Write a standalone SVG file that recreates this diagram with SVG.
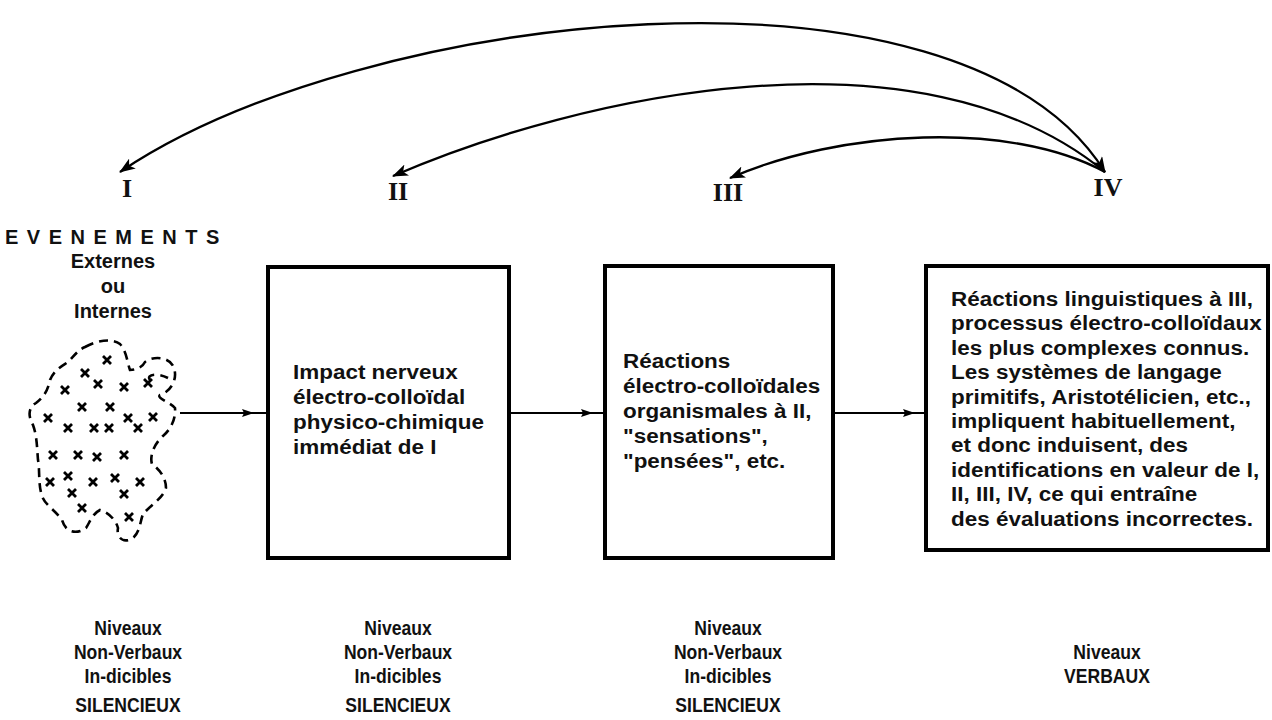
<svg xmlns="http://www.w3.org/2000/svg" width="1272" height="720" viewBox="0 0 1272 720">
<style>
.t{font-family:"Liberation Sans",Arial,sans-serif;font-weight:bold;font-size:21px;fill:#111}
.c{text-anchor:middle}
.lv{font-family:"Liberation Sans",Arial,sans-serif;font-weight:bold;font-size:19.5px;fill:#111;text-anchor:middle}
.rn{font-family:"Liberation Serif","Times New Roman",serif;font-weight:bold;font-size:26px;fill:#111;text-anchor:middle}
.box{fill:#fff;stroke:#000;stroke-width:4}
.ln{fill:none;stroke:#000;stroke-width:2}
.cv{fill:none;stroke:#000;stroke-width:2.3}
.blob{fill:none;stroke:#000;stroke-width:2.6;stroke-dasharray:9 6}
.x{stroke:#000;stroke-width:2.8;fill:none}
</style>
<defs>
<marker id="ah" viewBox="0 0 12 8" refX="11" refY="4" markerWidth="12" markerHeight="8" markerUnits="userSpaceOnUse" orient="auto">
<path d="M0,0 L12,4 L0,8 L2,4 z" fill="#000"/>
</marker>
<marker id="cah" viewBox="0 0 16 12" refX="15" refY="6" markerWidth="16" markerHeight="12" markerUnits="userSpaceOnUse" orient="auto">
<path d="M0,0 L16,6 L0,12 L4,6 z" fill="#000"/>
</marker>
<marker id="cahs" viewBox="0 0 16 12" refX="1" refY="6" markerWidth="16" markerHeight="12" markerUnits="userSpaceOnUse" orient="auto">
<path d="M16,0 L0,6 L16,12 L12,6 z" fill="#000"/>
</marker>
<path id="xm" d="M-4,-4 L4,4 M4,-4 L-4,4"/>
</defs>

<g id="connectors">
<path class="cv" d="M1105,172 C960,-60 360,10 120,172" marker-start="url(#cahs)" marker-end="url(#cah)"/>
<path class="cv" d="M1105,172 C920,20 580,95 393,176" marker-end="url(#cah)"/>
<path class="cv" d="M1105,172 C1010,120 840,130 730,178" marker-end="url(#cah)"/>
<path class="ln" d="M180,413 L253,413 L267,413" marker-mid="url(#ah)"/>
<path class="ln" d="M509,413 L592,413 L605,413" marker-mid="url(#ah)"/>
<path class="ln" d="M833,413 L914,413 L926,413" marker-mid="url(#ah)"/>
</g>

<g id="labels-roman">
<text class="rn" x="127" y="197">I</text>
<text class="rn" x="398" y="200">II</text>
<text class="rn" x="728" y="201">III</text>
<text class="rn" x="1108" y="196">IV</text>
</g>

<g id="node-I">
<text class="t" x="5" y="244" style="font-size:20px;letter-spacing:8.5px">EVENEMENTS</text>
<text class="t c" x="113" y="268" style="font-size:20px">Externes</text>
<text class="t c" x="113" y="293" style="font-size:20px">ou</text>
<text class="t c" x="113" y="318" style="font-size:20px">Internes</text>
<path class="blob" d="M85,347 C98,340 112,338 120,344 C127,352 127,362 130,370 C138,370 143,366 145,362 C152,356 170,356 174,368 C178,380 170,392 160,395 C156,398 170,402 175,408 C176,420 170,430 163,436 C152,446 150,458 152,464 C160,470 166,478 166,488 C163,498 150,506 143,514 C140,522 140,532 133,538 C124,544 116,538 118,528 C116,520 108,512 100,510 C92,514 90,522 86,528 C78,534 66,534 62,520 C55,510 45,505 42,496 C38,484 40,470 38,460 C37,448 37,436 33,425 C28,416 28,408 36,403 C44,397 48,390 50,380 C54,370 62,366 68,362 C74,356 78,350 85,347 Z"/>
<path class="blob" d="M150,380 C146,375 156,372 168,378" />
<g>
<use href="#xm" class="x" x="107" y="360"/>
<use href="#xm" class="x" x="85" y="373"/>
<use href="#xm" class="x" x="98" y="384"/>
<use href="#xm" class="x" x="124" y="387"/>
<use href="#xm" class="x" x="148" y="383"/>
<use href="#xm" class="x" x="65" y="390"/>
<use href="#xm" class="x" x="82" y="407"/>
<use href="#xm" class="x" x="110" y="407"/>
<use href="#xm" class="x" x="128" y="418"/>
<use href="#xm" class="x" x="153" y="417"/>
<use href="#xm" class="x" x="48" y="418"/>
<use href="#xm" class="x" x="68" y="428"/>
<use href="#xm" class="x" x="94" y="428"/>
<use href="#xm" class="x" x="109" y="428"/>
<use href="#xm" class="x" x="138" y="428"/>
<use href="#xm" class="x" x="53" y="455"/>
<use href="#xm" class="x" x="78" y="455"/>
<use href="#xm" class="x" x="97" y="457"/>
<use href="#xm" class="x" x="124" y="455"/>
<use href="#xm" class="x" x="50" y="482"/>
<use href="#xm" class="x" x="68" y="476"/>
<use href="#xm" class="x" x="93" y="482"/>
<use href="#xm" class="x" x="115" y="478"/>
<use href="#xm" class="x" x="140" y="482"/>
<use href="#xm" class="x" x="72" y="493"/>
<use href="#xm" class="x" x="82" y="508"/>
<use href="#xm" class="x" x="124" y="494"/>
<use href="#xm" class="x" x="129" y="517"/>
</g>
</g>

<g id="node-II">
<rect class="box" x="268" y="267" width="241" height="291"/>
<g transform="translate(293,0) scale(1.07,1)">
<text class="t" x="0" y="379">Impact nerveux</text>
<text class="t" x="0" y="404">électro-colloïdal</text>
<text class="t" x="0" y="429">physico-chimique</text>
<text class="t" x="0" y="454">immédiat de I</text>
</g>
</g>

<g id="node-III">
<rect class="box" x="605" y="266" width="228" height="292"/>
<g transform="translate(623,0) scale(1.07,1)">
<text class="t" x="0" y="368">Réactions</text>
<text class="t" x="0" y="393">électro-colloïdales</text>
<text class="t" x="0" y="418">organismales à II,</text>
<text class="t" x="0" y="443">"sensations",</text>
<text class="t" x="0" y="468">"pensées", etc.</text>
</g>
</g>

<g id="node-IV">
<rect class="box" x="926" y="266" width="342" height="284"/>
<g transform="translate(951,0) scale(1.07,1)">
<text class="t" x="0" y="306">Réactions linguistiques à III,</text>
<text class="t" x="0" y="330">processus électro-colloïdaux</text>
<text class="t" x="0" y="355">les plus complexes connus.</text>
<text class="t" x="0" y="379">Les systèmes de langage</text>
<text class="t" x="0" y="404">primitifs, Aristotélicien, etc.,</text>
<text class="t" x="0" y="428">impliquent habituellement,</text>
<text class="t" x="0" y="452">et donc induisent, des</text>
<text class="t" x="0" y="477">identifications en valeur de I,</text>
<text class="t" x="0" y="501">II, III, IV, ce qui entraîne</text>
<text class="t" x="0" y="526">des évaluations incorrectes.</text>
</g>
</g>

<g id="levels">
<g transform="translate(128,0) scale(0.9,1)">
<text class="lv" x="0" y="635">Niveaux</text>
<text class="lv" x="0" y="659">Non-Verbaux</text>
<text class="lv" x="0" y="683">In-dicibles</text>
<text class="lv" x="0" y="712">SILENCIEUX</text>
</g>
<g transform="translate(398,0) scale(0.9,1)">
<text class="lv" x="0" y="635">Niveaux</text>
<text class="lv" x="0" y="659">Non-Verbaux</text>
<text class="lv" x="0" y="683">In-dicibles</text>
<text class="lv" x="0" y="712">SILENCIEUX</text>
</g>
<g transform="translate(728,0) scale(0.9,1)">
<text class="lv" x="0" y="635">Niveaux</text>
<text class="lv" x="0" y="659">Non-Verbaux</text>
<text class="lv" x="0" y="683">In-dicibles</text>
<text class="lv" x="0" y="712">SILENCIEUX</text>
</g>
<g transform="translate(1107,0) scale(0.9,1)">
<text class="lv" x="0" y="659">Niveaux</text>
<text class="lv" x="0" y="683">VERBAUX</text>
</g>
</g>
</svg>
